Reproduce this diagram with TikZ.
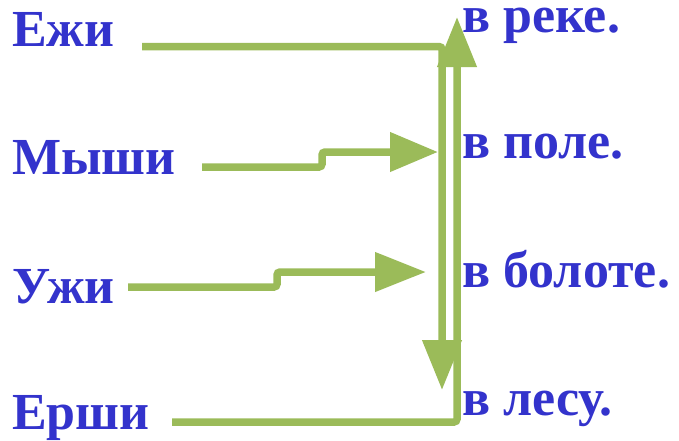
\documentclass[tikz,border=0pt]{standalone}
\usepackage{fontspec}
\setmainfont{Liberation Serif}
\usetikzlibrary{arrows.meta}
\definecolor{txtblue}{HTML}{3333CC}
\definecolor{lgreen}{HTML}{9BBB59}
\tikzset{
  lbl/.style={anchor=base west, inner sep=0pt, text=txtblue, font=\bfseries\fontsize{52}{60}\selectfont},
  conn/.style={draw=lgreen, line width=7.5pt, rounded corners=3pt},
  bigtip/.style={-{Triangle[length=50pt,width=38pt]}}
}
\begin{document}
\begin{tikzpicture}[x=1pt,y=-1pt]
\useasboundingbox (0,0) rectangle (679,440);
% left words
\node[lbl] (ezhi) at (12,46) {Ежи};
\node[lbl] (myshi) at (12,174) {Мыши};
\node[lbl] (uzhi) at (12,303) {Ужи};
\node[lbl] (ershi) at (12,429) {Ерши};
% right words
\node[lbl] (reka) at (462,32) {в реке.};
\node[lbl] (pole) at (462,158) {в поле.};
\node[lbl] (boloto) at (462,287) {в болоте.};
\node[lbl] (les) at (462,415) {в лесу.};
% connector ends
\coordinate (ezhiS) at (142,46.5);
\coordinate (ezhiT) at (442,390);
\coordinate (myshiS) at (202,167);
\coordinate (myshiT) at (438,152);
\coordinate (uzhiS) at (128,287);
\coordinate (uzhiT) at (426,272);
\coordinate (ershiS) at (172,422);
\coordinate (ershiT) at (457,17);
% connectors
\draw[conn, bigtip] (ershiS) -| (ershiT);
\draw[conn, bigtip] (ezhiS) -| (ezhiT);
\draw[conn, -{Triangle[length=48pt,width=38pt]}] (myshiS) -- ++(120,0) |- (myshiT);
\draw[conn, -{Triangle[length=51pt,width=38pt]}] (uzhiS) -- ++(149,0) |- (uzhiT);
\end{tikzpicture}
\end{document}
